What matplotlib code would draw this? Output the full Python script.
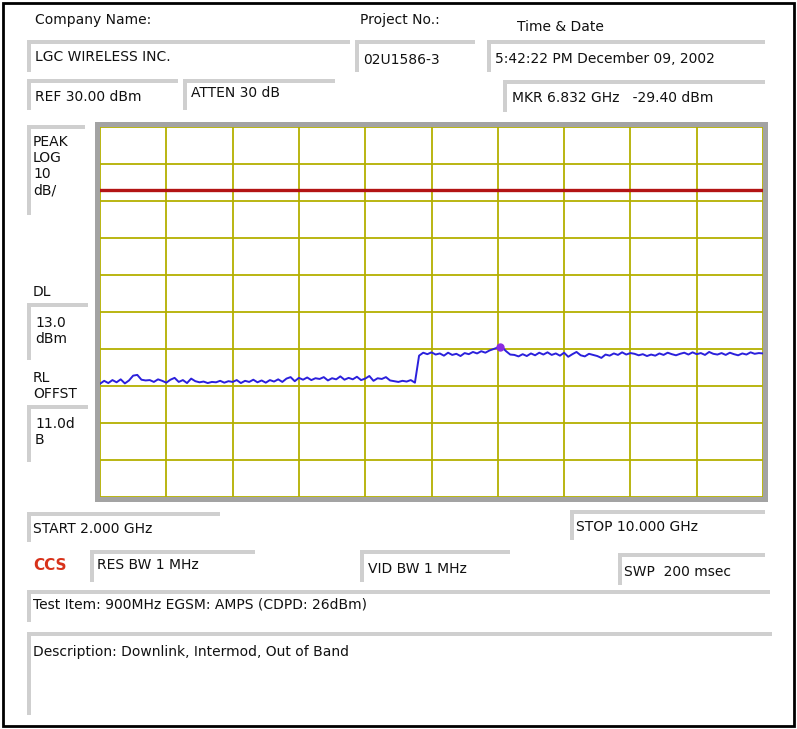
import numpy as np
import matplotlib
matplotlib.use("Agg")
import matplotlib.pyplot as plt
from matplotlib.patches import Rectangle

# ---------------- data ----------------
start_ghz = 2.0
stop_ghz = 10.0
ref_dbm = 30.0
db_per_div = 10.0
display_line_dbm = 13.0
marker_ghz = 6.832
marker_dbm = -29.40

trace_dbm = [
    -39.4, -38.6, -39.2, -38.4, -39.0, -38.2, -39.3, -38.5, -37.2, -37.0,
    -38.3, -38.5, -38.4, -38.9, -38.2, -38.6, -39.1, -38.3, -37.8, -38.9,
    -38.4, -39.2, -38.0, -38.7, -39.0, -38.8, -39.2, -38.9, -39.0, -38.6,
    -39.1, -38.7, -38.9, -38.4, -39.2, -38.6, -38.9, -38.3, -39.0, -38.5,
    -39.1, -38.4, -38.8, -38.2, -38.9, -38.0, -37.6, -38.7, -37.8, -38.3,
    -37.7, -38.4, -37.9, -38.1, -37.6, -38.5, -37.9, -38.2, -37.4, -38.3,
    -37.8, -38.2, -37.5, -38.4, -38.0, -37.3, -38.6, -37.9, -38.1, -37.6,
    -38.5, -38.7, -38.9, -38.6, -38.8, -38.4, -39.1, -31.8, -31.0, -31.4,
    -30.9, -31.5, -31.2, -31.8, -31.0, -31.6, -31.3, -31.9, -31.1, -31.4,
    -30.8, -31.2, -30.6, -31.0, -30.4, -30.0, -29.6, -29.5, -30.6, -31.5,
    -31.6, -32.0, -31.4, -31.9, -31.2, -31.7, -31.0, -31.5, -30.9, -31.6,
    -31.2, -31.8, -31.0, -32.1, -31.4, -30.8, -31.7, -32.0, -31.3, -31.6,
    -31.9, -32.4, -31.5, -31.8, -31.2, -31.6, -30.9, -31.5, -31.1, -31.3,
    -31.7, -31.4, -31.9, -31.5, -31.8, -31.2, -31.6, -31.0, -31.4, -31.7,
    -31.3, -31.0, -31.5, -30.9, -31.4, -31.1, -31.6, -30.8, -31.3, -31.5,
    -31.1, -31.6, -31.0, -31.4, -31.7, -31.2, -31.5, -30.9, -31.3, -31.1,
    -31.2,
]
freq_ghz = np.linspace(start_ghz, stop_ghz, len(trace_dbm))

header_labels = ["Company Name:", "Project No.:", "Time & Date"]
company = "LGC WIRELESS INC."
project = "02U1586-3"
timestamp = "5:42:22 PM December 09, 2002"
ref_text = "REF 30.00 dBm"
atten_text = "ATTEN 30 dB"
mkr_text = "MKR 6.832 GHz   -29.40 dBm"
side_labels = ["PEAK\nLOG\n10\ndB/", "DL", "13.0\ndBm", "RL\nOFFST", "11.0d\nB"]
start_text = "START 2.000 GHz"
stop_text = "STOP 10.000 GHz"
rbw_text = "RES BW 1 MHz"
vbw_text = "VID BW 1 MHz"
swp_text = "SWP  200 msec"
test_item = "Test Item: 900MHz EGSM: AMPS (CDPD: 26dBm)"
description = "Description: Downlink, Intermod, Out of Band"

# ---------------- figure ----------------
W, H = 797, 729
fig = plt.figure(figsize=(W / 100, H / 100), dpi=100)
fig.patch.set_facecolor("white")

ov = fig.add_axes([0, 0, 1, 1], zorder=0)
ov.set_xlim(0, W)
ov.set_ylim(H, 0)
ov.axis("off")

FS = 10
BAR = "#cfcfcf"

def field(x0, y0, x1, y1, t=4):
    ov.add_patch(Rectangle((x0, y0), x1 - x0, t, color=BAR, lw=0))
    ov.add_patch(Rectangle((x0, y0), t, y1 - y0, color=BAR, lw=0))

def txt(x, y, s, **kw):
    kw.setdefault("fontsize", FS)
    ov.text(x, y, s, va="center", ha="left", color="#111111",
            family="DejaVu Sans", **kw)

# outer black border
ov.add_patch(Rectangle((3, 3), W - 6, H - 6, fill=False, ec="black", lw=2))

# header
txt(35, 20, header_labels[0])
txt(360, 20, header_labels[1])
txt(517, 27, header_labels[2])
field(27, 40, 350, 72); txt(35, 57, company)
field(355, 40, 475, 72); txt(363, 60, project)
field(487, 40, 765, 72); txt(495, 59, timestamp)
field(27, 79, 178, 110); txt(35, 97, ref_text)
field(183, 79, 335, 110); txt(191, 93, atten_text)
field(503, 80, 765, 112); txt(512, 98, mkr_text)

# side panel
field(27, 125, 85, 215)
txt(33, 166, side_labels[0], linespacing=1.2)
txt(33, 292, side_labels[1])
field(27, 303, 88, 360); txt(35, 331, side_labels[2], linespacing=1.15)
txt(33, 386, side_labels[3], linespacing=1.2)
field(27, 405, 88, 462); txt(35, 432, side_labels[4], linespacing=1.15)

# plot frame
ov.add_patch(Rectangle((95, 122), 673, 380, color="#a3a3a3", lw=0))
ov.add_patch(Rectangle((100, 127), 663, 370, color="white", lw=0))

# bottom fields
field(27, 512, 220, 542); txt(33, 529, start_text)
field(570, 510, 765, 540); txt(576, 527, stop_text)
ov.text(33, 566, "CCS", va="center", ha="left", color="#d8321a",
        fontsize=11, fontweight="bold", family="DejaVu Sans")
field(90, 550, 255, 582); txt(97, 565, rbw_text)
field(360, 550, 510, 582); txt(368, 569, vbw_text)
field(618, 553, 765, 585); txt(624, 572, swp_text)
field(27, 590, 770, 622); txt(33, 604, test_item)
field(27, 632, 772, 715); txt(33, 652, description)

# ---------------- spectrum axes ----------------
ax = fig.add_axes([100 / W, 1 - 497 / H, 663 / W, 370 / H], zorder=1)
ax.set_facecolor("white")
ax.set_xlim(start_ghz, stop_ghz)
bottom_dbm = ref_dbm - 10 * db_per_div
ax.set_ylim(bottom_dbm, ref_dbm)
ax.set_xticks(np.linspace(start_ghz, stop_ghz, 11))
ax.set_yticks(np.linspace(bottom_dbm, ref_dbm, 11))
ax.tick_params(length=0, labelbottom=False, labelleft=False)
ax.grid(True, color="#b4b000", lw=1.3)
ax.set_axisbelow(True)
for s in ax.spines.values():
    s.set_visible(False)

ax.axhline(display_line_dbm, color="#b31414", lw=2.4, zorder=3)
ax.plot(freq_ghz, trace_dbm, color="#2b20dc", lw=1.4, zorder=4)
ax.plot([marker_ghz], [marker_dbm], "o", color="#8a2be2", ms=5, zorder=5)

fig.savefig("out.png", dpi=100, facecolor="white")
